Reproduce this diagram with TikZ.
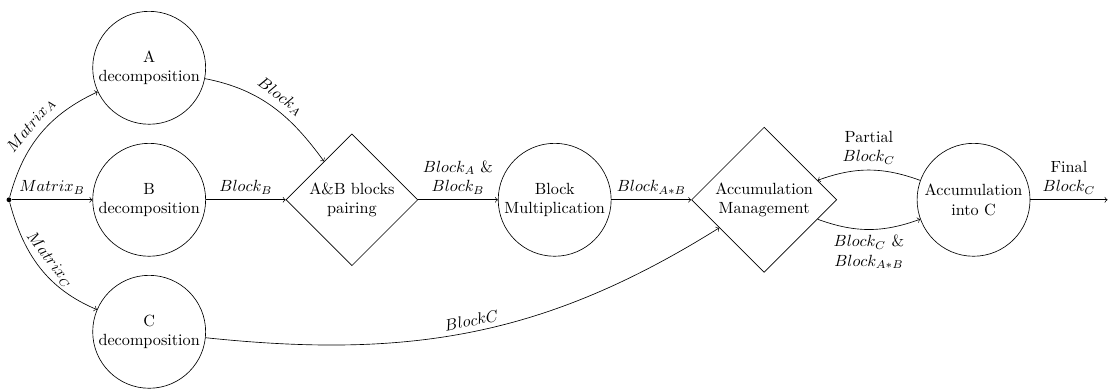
\documentclass[tikz,border=0pt]{standalone}
\usepackage{amsmath}
\usetikzlibrary{arrows,shapes,positioning}

\begin{document}
\begin{tikzpicture}[
            stage/.style={ draw, circle, align=center, inner sep=1pt, minimum size=24.5mm },
            check/.style={ draw, diamond, aspect=1, align=center, inner sep=1pt },
            lbl/.style={ align=center },
            node distance=4mm and 17.3mm
        ]

        \useasboundingbox (0,0) rectangle (24.04,8.5);

        \node[circle, fill, inner sep=0pt, minimum size=3pt] (split) at (0.195,4.165) {};
        \node[stage, right=17.5mm of split] (B) {B\\decomposition};
        \node[stage, above=of B] (A) {A\\decomposition};
        \node[stage, below=of B] (C) {C\\decomposition};
        \node[check, minimum size=28.6mm, right=of B] (pair) {A\&B blocks\\pairing};
        \node[stage, right=of pair] (mult) {Block\\Multiplication};
        \node[check, minimum size=31.5mm, right=of mult] (accm) {Accumulation\\Management};
        \node[stage, right=of accm] (accc) {Accumulation\\into C};
        \coordinate (final) at (24.03,4.165);

        \draw[->] (split) to[out=75, in=205] node[lbl, above, sloped] {$Matrix_A$} (A);
        \draw[->] (split) -- node[lbl, above] {$Matrix_B$} (B);
        \draw[->] (split) to[out=-75, in=157] node[lbl, above, sloped] {$Matrix_C$} (C);

        \draw[->] (A) to[out=-11, in=126] node[lbl, above, sloped] {$Block_A$} (pair);
        \draw[->] (B) -- node[lbl, above] {$Block_B$} (pair);
        \draw[->] (pair) -- node[lbl, above] {$Block_A$ \&\\$Block_B$} (mult);
        \draw[->] (mult) -- node[lbl, above] {$Block_{A*B}$} (accm);
        \draw[->] (C) to[out=-6, in=212] node[lbl, above, sloped] {$BlockC$} (accm);

        \draw[->] (accc) to[out=160, in=20] node[lbl, above] {Partial\\$Block_C$} (accm);
        \draw[->] (accm) to[out=-20, in=200] node[lbl, below] {$Block_C$ \&\\$Block_{A*B}$} (accc);
        \draw[->] (accc) -- node[lbl, above] {Final\\$Block_C$} (final);
\end{tikzpicture}
\end{document}
